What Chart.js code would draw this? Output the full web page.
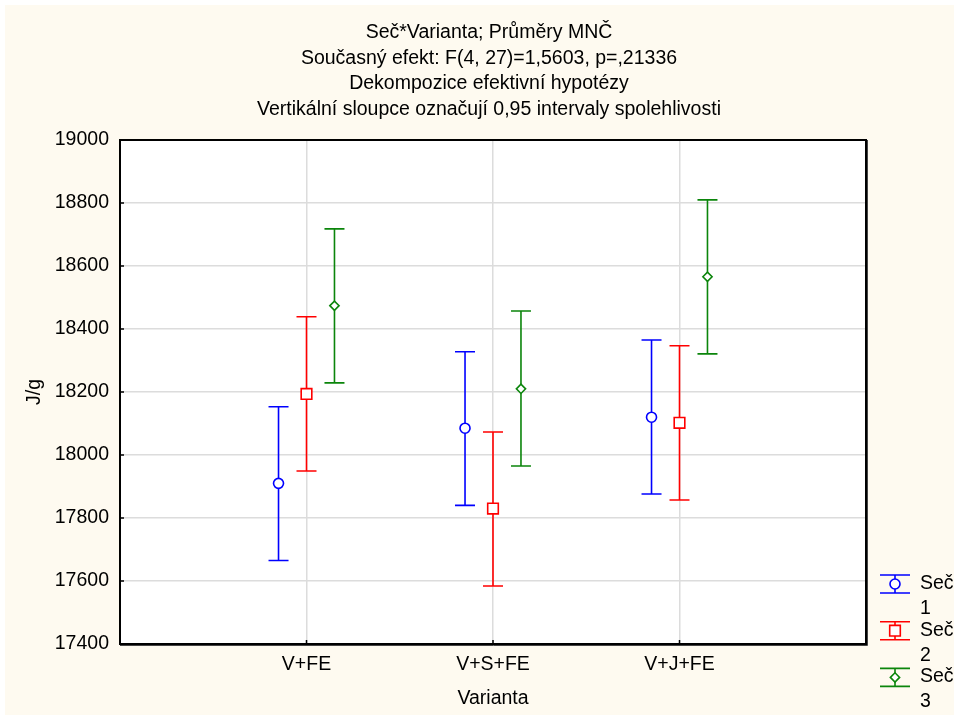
<!DOCTYPE html>
<html>
<head>
<meta charset="utf-8">
<title>Seč*Varianta</title>
<script src="https://cdn.jsdelivr.net/npm/chart.js@4.4.1/dist/chart.umd.min.js"></script>
<style>
  html, body { margin: 0; padding: 0; background: #fff; }
  #wrap { position: relative; width: 954px; height: 715px; }
</style>
</head>
<body>
<div id="wrap"><canvas id="chart" width="954" height="715"></canvas></div>
<script>
// ===== DATA =====
const categories = ["V+FE", "V+S+FE", "V+J+FE"];
const seriesNames = ["Seč 1", "Seč 2", "Seč 3"];

// průměry MNČ + dolní/horní mez 0,95 intervalu spolehlivosti
const sec1Mean = [17910, 18085, 18120];
const sec1Low  = [17665, 17840, 17876];
const sec1High = [18153, 18328, 18365];

const sec2Mean = [18194, 17830, 18102];
const sec2Low  = [17949, 17584, 17857];
const sec2High = [18439, 18073, 18347];

const sec3Mean = [18474, 18210, 18566];
const sec3Low  = [18229, 17965, 18321];
const sec3High = [18718, 18457, 18810];

const yTicks = [17400, 17600, 17800, 18000, 18200, 18400, 18600, 18800, 19000];

const titleLines = [
    "Seč*Varianta; Průměry MNČ",
    "Současný efekt: F(4, 27)=1,5603, p=,21336",
    "Dekompozice efektivní hypotézy",
    "Vertikální sloupce označují 0,95 intervaly spolehlivosti"
];

// ===== STYLE =====
const FONT = "Arial, 'Liberation Sans', sans-serif";
const FONT_SIZE = 19.5;
const colors = ["#0000ff", "#ff0000", "#0b850b"];
const markers = ["circle", "rect", "rectRot"];
const markerSize = [5, 7.5, 4.6];
const shift = [-0.15, 0, 0.15];

const means = [sec1Mean, sec2Mean, sec3Mean];
const lows = [sec1Low, sec2Low, sec3Low];
const highs = [sec1High, sec2High, sec3High];

const datasets = seriesNames.map((name, s) => ({
    label: name,
    data: means[s].map((v, i) => ({ x: i + 1 + shift[s], y: v })),
    low: lows[s],
    high: highs[s],
    borderColor: colors[s],
    backgroundColor: "#ffffff",
    pointStyle: markers[s],
    pointRadius: markerSize[s],
    pointHoverRadius: markerSize[s],
    pointBorderWidth: 1.6,
    showLine: false
}));

// ===== PLUGINS =====
const backdrop = {
    id: "backdrop",
    beforeDraw(chart) {
        const { ctx, chartArea: a } = chart;
        ctx.save();
        ctx.fillStyle = "#ffffff";
        ctx.fillRect(0, 0, chart.width, chart.height);
        ctx.fillStyle = "#fefaf0";
        ctx.fillRect(5, 5, chart.width - 5, chart.height - 5);
        ctx.fillStyle = "#ffffff";
        ctx.fillRect(a.left, a.top, a.right - a.left, a.bottom - a.top);
        ctx.restore();
    }
};

const errorBars = {
    id: "errorBars",
    beforeDatasetsDraw(chart) {
        const { ctx, scales: { x, y } } = chart;
        ctx.save();
        ctx.lineWidth = 1.6;
        chart.data.datasets.forEach(ds => {
            ctx.strokeStyle = ds.borderColor;
            ds.data.forEach((p, i) => {
                const px = x.getPixelForValue(p.x);
                const top = y.getPixelForValue(ds.high[i]);
                const bot = y.getPixelForValue(ds.low[i]);
                ctx.beginPath();
                ctx.moveTo(px, top);
                ctx.lineTo(px, bot);
                ctx.moveTo(px - 10, top);
                ctx.lineTo(px + 10, top);
                ctx.moveTo(px - 10, bot);
                ctx.lineTo(px + 10, bot);
                ctx.stroke();
            });
        });
        ctx.restore();
    }
};

const frameAndText = {
    id: "frameAndText",
    afterDraw(chart) {
        const { ctx, chartArea: a, scales: { x, y } } = chart;
        ctx.save();

        // inner tick marks
        ctx.strokeStyle = "#000";
        ctx.lineWidth = 1.5;
        ctx.beginPath();
        yTicks.forEach(v => {
            const py = y.getPixelForValue(v);
            ctx.moveTo(a.left, py);
            ctx.lineTo(a.left + 4, py);
        });
        categories.forEach((c, i) => {
            const px = x.getPixelForValue(i + 1);
            ctx.moveTo(px, a.bottom);
            ctx.lineTo(px, a.bottom - 4);
        });
        ctx.stroke();

        // frame
        ctx.lineWidth = 2;
        ctx.strokeRect(a.left, a.top, a.right - a.left, a.bottom - a.top);
        ctx.strokeStyle = "#444";
        ctx.lineWidth = 1;
        ctx.beginPath();
        ctx.moveTo(a.right + 1.5, a.top);
        ctx.lineTo(a.right + 1.5, a.bottom + 1.5);
        ctx.lineTo(a.left, a.bottom + 1.5);
        ctx.stroke();

        // title
        ctx.fillStyle = "#000";
        ctx.font = FONT_SIZE + "px " + FONT;
        ctx.textAlign = "center";
        ctx.textBaseline = "alphabetic";
        titleLines.forEach((t, i) => ctx.fillText(t, 489, 38 + i * 25.6));

        // legend
        chart.data.datasets.forEach((ds, s) => {
            const cy = 584 + s * 46.7;
            const cx = 895;
            ctx.strokeStyle = ds.borderColor;
            ctx.lineWidth = 1.6;
            ctx.beginPath();
            ctx.moveTo(cx - 15, cy - 9);
            ctx.lineTo(cx + 15, cy - 9);
            ctx.moveTo(cx - 15, cy + 9);
            ctx.lineTo(cx + 15, cy + 9);
            ctx.moveTo(cx, cy - 9);
            ctx.lineTo(cx, cy + 9);
            ctx.stroke();
            ctx.fillStyle = "#ffffff";
            Chart.helpers.drawPoint(ctx, {
                pointStyle: ds.pointStyle,
                radius: ds.pointRadius,
                borderWidth: 1.6
            }, cx, cy);
            ctx.fillStyle = "#000";
            ctx.textAlign = "left";
            const parts = ds.label.split(" ");
            ctx.fillText(parts[0], 920, cy + 5);
            ctx.fillText(parts[1], 920, cy + 30);
        });
        ctx.restore();
    }
};

// ===== CHART =====
new Chart(document.getElementById("chart").getContext("2d"), {
    type: "scatter",
    data: { datasets },
    options: {
        responsive: false,
        animation: false,
        devicePixelRatio: 1,
        layout: { padding: { left: 0, top: 140, right: 88, bottom: 0 } },
        plugins: {
            legend: { display: false },
            tooltip: { enabled: false }
        },
        scales: {
            x: {
                type: "linear",
                min: 0,
                max: 4,
                afterBuildTicks: s => { s.ticks = categories.map((c, i) => ({ value: i + 1 })); },
                afterFit: s => { s.height = 71; },
                ticks: {
                    callback: v => categories[v - 1],
                    color: "#000",
                    font: { family: FONT, size: FONT_SIZE },
                    padding: 9,
                    maxRotation: 0,
                    autoSkip: false
                },
                grid: { color: "#dcdcdc", lineWidth: 1.5, drawTicks: false },
                border: { display: false },
                title: {
                    display: true,
                    text: "Varianta",
                    color: "#000",
                    font: { family: FONT, size: FONT_SIZE },
                    padding: { top: 0, bottom: 5 }
                }
            },
            y: {
                min: 17400,
                max: 19000,
                afterBuildTicks: s => { s.ticks = yTicks.map(v => ({ value: v })); },
                afterFit: s => { s.width = 120; },
                ticks: {
                    callback: v => String(v),
                    color: "#000",
                    font: { family: FONT, size: FONT_SIZE },
                    padding: 11
                },
                grid: { color: "#dcdcdc", lineWidth: 1.5, drawTicks: false },
                border: { display: false },
                title: {
                    display: true,
                    text: "J/g",
                    color: "#000",
                    font: { family: FONT, size: FONT_SIZE },
                    padding: { top: 23, bottom: 0 }
                }
            }
        }
    },
    plugins: [backdrop, errorBars, frameAndText]
});
</script>
</body>
</html>
